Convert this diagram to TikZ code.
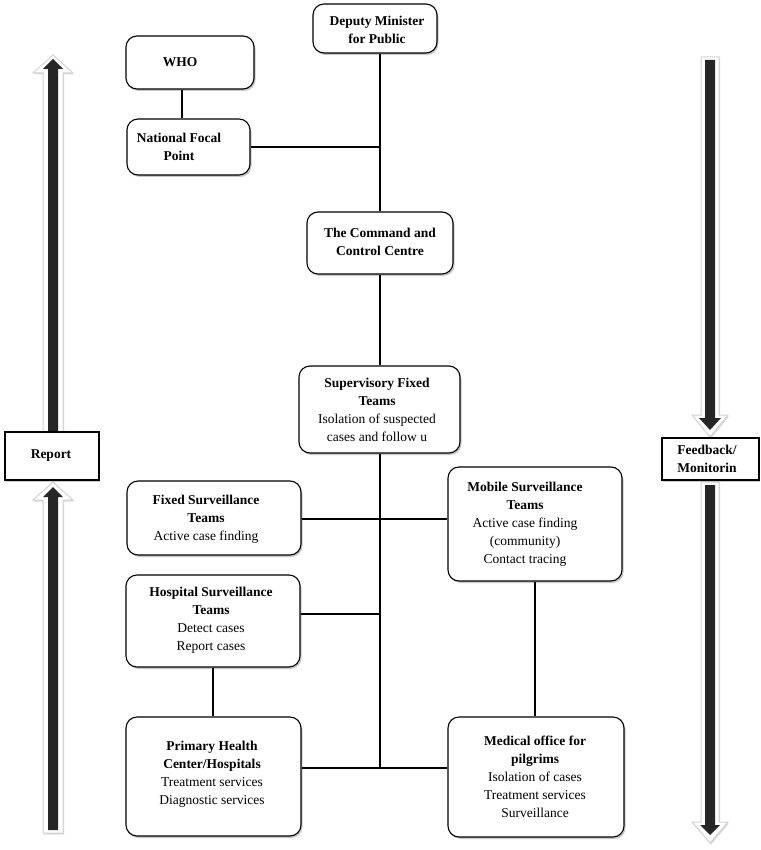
\documentclass[tikz,border=0pt]{standalone}
\usepackage{fontspec}
\setmainfont{Liberation Serif}
\usetikzlibrary{shadows}
\begin{document}
\begin{tikzpicture}[x=1pt,y=-1pt,
  box/.style={draw=black, line width=1.1pt, rounded corners=11pt, fill=white, inner sep=0pt,
    drop shadow={shadow xshift=1.5pt, shadow yshift=-2pt, opacity=0.22, fill=black}},
  sqbox/.style={draw=black, line width=1.1pt, fill=white, inner sep=0pt,
    drop shadow={shadow xshift=1pt, shadow yshift=-1.5pt, opacity=0.2, fill=black}},
  txt/.style={align=center, font=\fontsize{13.5}{18}\selectfont, inner sep=0pt},
  conn/.style={line width=2.9pt},
  outerarr/.style={fill=white, draw=gray!35, line width=1pt,
    drop shadow={shadow xshift=1pt, shadow yshift=-1.5pt, opacity=0.15, fill=black}},
  innerarr/.style={fill=black!85}]
\useasboundingbox (0,0) rectangle (760,850);

% ---- block arrows ----
\draw[outerarr] (43,432) -- (43,73) -- (33,73) -- (53,55) -- (73,73) -- (63,73) -- (63,432) -- cycle;
\fill[innerarr] (48,432) -- (48,69) -- (43,69) -- (53,59) -- (63,69) -- (58,69) -- (58,432) -- cycle;
\draw[outerarr] (43,833) -- (43,500) -- (33,500) -- (53,482) -- (73,500) -- (63,500) -- (63,833) -- cycle;
\fill[innerarr] (48,830) -- (48,497) -- (43,497) -- (53,487) -- (63,497) -- (58,497) -- (58,830) -- cycle;
\draw[outerarr] (701,57) -- (701,415) -- (692,415) -- (710,437) -- (728,415) -- (719,415) -- (719,57) -- cycle;
\fill[innerarr] (705,60) -- (705,418) -- (699,418) -- (710,430) -- (721,418) -- (715,418) -- (715,60) -- cycle;
\draw[outerarr] (701,482) -- (701,822) -- (692,822) -- (710,843) -- (728,822) -- (719,822) -- (719,482) -- cycle;
\fill[innerarr] (705,485) -- (705,825) -- (700,825) -- (710,835) -- (720,825) -- (715,825) -- (715,485) -- cycle;

% ---- coordinates ----
\coordinate (spx) at (380,0);
\coordinate (wx) at (182,0);
\coordinate (hx) at (213,0);
\coordinate (mx) at (535,0);
\coordinate (fy) at (0,519);
\coordinate (hy) at (0,614);
\coordinate (py) at (0,768);

% ---- boxes ----
\node[box, minimum width=124, minimum height=49] (deputy) at (375,28.5) {};
\node[box, minimum width=128, minimum height=53] (who) at (190,62.5) {};
\node[box, minimum width=123, minimum height=56] (nfp) at (188.5,147) {};
\node[box, minimum width=146, minimum height=62] (command) at (380,243) {};
\node[box, minimum width=161, minimum height=87] (sup) at (379.5,409.5) {};
\node[box, minimum width=174, minimum height=74] (fixed) at (214,518) {};
\node[box, minimum width=174, minimum height=114] (mobile) at (535,524) {};
\node[box, minimum width=174, minimum height=92] (hosp) at (213,621) {};
\node[box, minimum width=175, minimum height=119] (prim) at (213.5,776.5) {};
\node[box, minimum width=176, minimum height=120] (med) at (536,777) {};
\node[sqbox, minimum width=94, minimum height=48] (report) at (52,456) {};
\node[sqbox, minimum width=97, minimum height=42] (feed) at (710.5,459) {};

% ---- connectors ----
\draw[conn] (deputy.south -| spx) -- (command.north -| spx);
\draw[conn] (who.south -| wx) -- (nfp.north -| wx);
\draw[conn] (nfp.east) -- (nfp.east -| spx);
\draw[conn] (command.south -| spx) -- (sup.north -| spx);
\draw[conn] (sup.south -| spx) -- (spx |- py);
\draw[conn] (fixed.east |- fy) -- (mobile.west |- fy);
\draw[conn] (hosp.east |- hy) -- (spx |- hy);
\draw[conn] (hosp.south -| hx) -- (prim.north -| hx);
\draw[conn] (mobile.south -| mx) -- (med.north -| mx);
\draw[conn] (prim.east |- py) -- (med.west |- py);

% ---- texts ----
\node[txt] (deputyt) at (377,30) {\textbf{Deputy Minister}\\\textbf{for Public}};
\node[txt] (whot) at (180,62.5) {\textbf{WHO}};
\node[txt] (nfpt) at (179,147) {\textbf{National Focal}\\\textbf{Point}};
\node[txt] (commandt) at (380,241.5) {\textbf{The Command and}\\\textbf{Control Centre}};
\node[txt] (supt) at (377,409.5) {\textbf{Supervisory Fixed}\\\textbf{Teams}\\Isolation of suspected\\cases and follow u};
\node[txt] (fixedt) at (206,519) {\textbf{Fixed Surveillance}\\\textbf{Teams}\\Active case finding};
\node[txt] (mobilet) at (525,524) {\textbf{Mobile Surveillance}\\\textbf{Teams}\\Active case finding\\(community)\\Contact tracing};
\node[txt] (hospt) at (211,620) {\textbf{Hospital Surveillance}\\\textbf{Teams}\\Detect cases\\Report cases};
\node[txt] (primt) at (212,774) {\textbf{Primary Health}\\\textbf{Center/Hospitals}\\Treatment services\\Diagnostic services};
\node[txt] (medt) at (535,777) {\textbf{Medical office for}\\\textbf{pilgrims}\\Isolation of cases\\Treatment services\\Surveillance};
\node[txt] (reportt) at (51,456) {\textbf{Report}};
\node[txt, align=left] (feedt) at (707,459) {\textbf{Feedback/}\\\textbf{Monitorin}};
\end{tikzpicture}
\end{document}
